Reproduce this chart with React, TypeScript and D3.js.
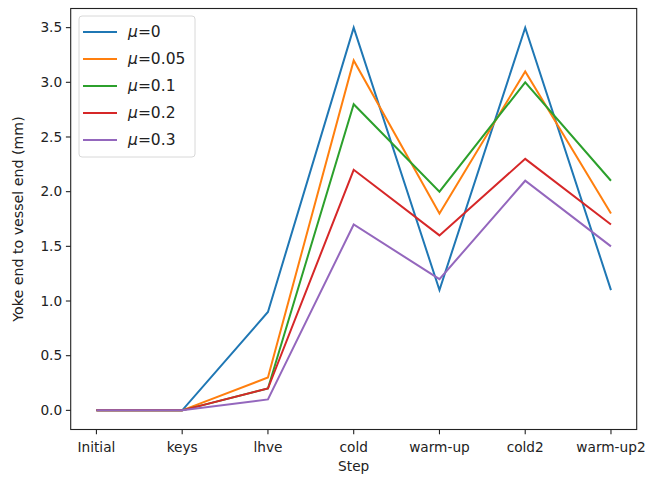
import React from "react";
import * as d3 from "d3";

const steps = ["Initial", "keys", "lhve", "cold", "warm-up", "cold2", "warm-up2"];
const seriesNames = ["μ=0", "μ=0.05", "μ=0.1", "μ=0.2", "μ=0.3"];
const mu0 = [0, 0, 0.9, 3.5, 1.1, 3.5, 1.1];
const mu005 = [0, 0, 0.3, 3.2, 1.8, 3.1, 1.8];
const mu01 = [0, 0, 0.2, 2.8, 2.0, 3.0, 2.1];
const mu02 = [0, 0, 0.2, 2.2, 1.6, 2.3, 1.7];
const mu03 = [0, 0, 0.1, 1.7, 1.2, 2.1, 1.5];
const seriesValues = [mu0, mu005, mu01, mu02, mu03];
const colors = ["#1f77b4", "#ff7f0e", "#2ca02c", "#d62728", "#9467bd"];
const yTicks = [0, 0.5, 1.0, 1.5, 2.0, 2.5, 3.0, 3.5];

const W = 651, H = 479;
const L = 70.7, R = 636.7, T = 8.5, B = 429.5;
const FONT = "DejaVu Sans, sans-serif";
const FS = 13.7;
const LFS = 15.5;

export default function App() {
  const x = d3.scalePoint<string>().domain(steps).range([L, R]).padding(0.3);
  const y = d3.scaleLinear().domain([-0.175, 3.675]).range([B, T]);
  const line = d3
    .line<number>()
    .x((_, i) => x(steps[i]) as number)
    .y((d) => y(d));

  const legX = 79, legY = 16, rowH = 27;

  return (
    <svg width={W} height={H} style={{ position: "absolute", left: 0, top: 0, background: "#fff" }} fontFamily={FONT}>
      <rect x={0} y={0} width={W} height={H} fill="#fff" />
      {seriesValues.map((vals, i) => (
        <path key={i} d={line(vals) || ""} fill="none" stroke={colors[i]} strokeWidth={2} strokeLinejoin="miter" />
      ))}
      <rect x={L} y={T} width={R - L} height={B - T} fill="none" stroke="#222" strokeWidth={1.1} />
      {yTicks.map((t) => (
        <g key={t}>
          <line x1={L - 4.8} x2={L} y1={y(t)} y2={y(t)} stroke="#222" strokeWidth={1.1} />
          <text x={L - 8.5} y={y(t)} dy="0.35em" textAnchor="end" fontSize={FS} fill="#222">
            {t.toFixed(1)}
          </text>
        </g>
      ))}
      {steps.map((s) => (
        <g key={s}>
          <line x1={x(s)} x2={x(s)} y1={B} y2={B + 4.8} stroke="#222" strokeWidth={1.1} />
          <text x={x(s)} y={B + 22} textAnchor="middle" fontSize={FS} fill="#222">
            {s}
          </text>
        </g>
      ))}
      <text x={(L + R) / 2} y={B + 41} textAnchor="middle" fontSize={FS} fill="#222">
        Step
      </text>
      <text
        transform={`translate(23,${(T + B) / 2}) rotate(-90)`}
        textAnchor="middle"
        fontSize={14.2}
        fill="#222"
      >
        Yoke end to vessel end (mm)
      </text>
      <rect x={legX} y={legY} width={116} height={141} rx={3} fill="#fff" fillOpacity={0.8} stroke="#d8d8d8" strokeWidth={1} />
      {seriesNames.map((n, i) => (
        <g key={n}>
          <line x1={legX + 4} x2={legX + 38} y1={legY + 16 + i * rowH} y2={legY + 16 + i * rowH} stroke={colors[i]} strokeWidth={2} />
          <text x={legX + 49} y={legY + 16 + i * rowH} dy="0.35em" fontSize={LFS} fill="#222">
            <tspan fontStyle="italic">μ</tspan>
            <tspan>{n.slice(1)}</tspan>
          </text>
        </g>
      ))}
    </svg>
  );
}
